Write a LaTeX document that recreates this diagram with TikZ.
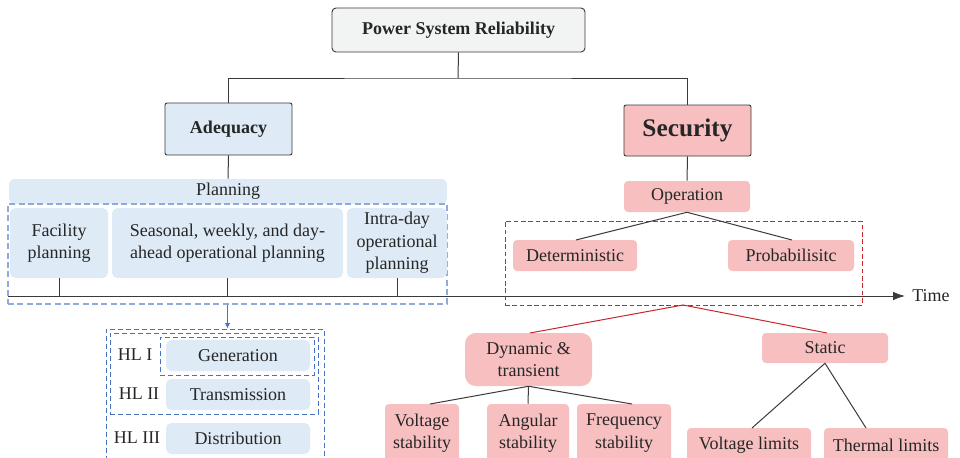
\documentclass[tikz,border=0pt]{standalone}
\usepackage{fontspec}
\setmainfont{Liberation Serif}
\usetikzlibrary{arrows.meta}
\definecolor{ink}{HTML}{262626}
\definecolor{edge}{HTML}{3A3A3A}
\definecolor{bluefill}{HTML}{DEEAF5}
\definecolor{pinkfill}{HTML}{F8BFC1}
\definecolor{greyfill}{HTML}{F2F3F3}
\definecolor{lightdash}{HTML}{8FAADC}
\definecolor{darkdash}{HTML}{4472C4}
\definecolor{reddash}{HTML}{C8262B}
% \boxat[style]{name}{x1}{y1}{x2}{y2}{text}: a node filling the given corners
\newcommand\boxat[7][]{%
  \node[inner sep=0pt, align=center, text=ink,
        minimum width={(#5-#3)*0.75pt}, minimum height={(#6-#4)*0.75pt}, #1]
    (#2) at ({(#3+#5)/2},{(#4+#6)/2}) {#7};}
\tikzset{
  txt/.style={font=\fontsize{13.5}{16.8}\selectfont},
  blue/.style={txt, fill=bluefill, rounded corners=4pt},
  pink/.style={txt, fill=pinkfill, rounded corners=3pt},
  headbox/.style={draw=edge, line width=0.7pt, rounded corners=1.5pt},
  link/.style={draw=edge, line width=0.75pt},
  redlink/.style={draw=reddash, line width=0.75pt},
  dashbox/.style={draw, dash pattern=on 4.5pt off 2.5pt, line width=0.8pt},
}
\begin{document}
\begin{tikzpicture}[x=0.75pt, y=-0.75pt]
\useasboundingbox (0,0) rectangle (960,457);

% ---- top of the tree
\boxat[headbox, fill=greyfill, rounded corners=3pt, font=\bfseries\fontsize{13.5}{16}\selectfont]{title}{332}{8}{585}{52}{Power System Reliability}
\boxat[headbox, fill=bluefill, font=\bfseries\fontsize{13.5}{16}\selectfont]{adeq}{165}{103}{292}{155}{Adequacy}
\boxat[headbox, fill=pinkfill, font=\bfseries\fontsize{19}{22}\selectfont]{sec}{624}{105}{751}{156}{Security}
\coordinate (split) at (458,78);
\draw[link] (title.south) -- (split);
\draw[link] (adeq.north) |- (split) -| (sec.north);

% ---- planning side
\boxat[blue]{plan}{9}{179}{447}{204}{Planning}
\draw[link] (adeq.south) -- (plan.north);
\boxat[dashbox, draw=lightdash]{pdash}{8}{204}{447}{304}{}
\boxat[blue]{fac}{10}{208}{108}{278}{Facility\\planning}
\boxat[blue]{seas}{112}{208}{343}{278}{Seasonal, weekly, and day-\\ahead operational planning}
\boxat[blue]{intra}{347}{208}{447}{278}{Intra-day\\operational\\planning}

% ---- time axis
\coordinate (t0) at (8,296);
\coordinate (t1) at (905,296);
\draw[link, -{Latex[length=9pt,width=6.5pt]}] (t0) -- (t1);
\node[txt, text=ink, anchor=west, inner sep=0pt] (time) at (912,296) {Time};
\draw[link] (fac.south) -- (fac.south |- t0);
\draw[link] (seas.south) -- (seas.south |- t0);
\draw[link] (intra.south) -- (intra.south |- t0);

% ---- hierarchical levels
\boxat[dashbox, draw=darkdash, dash pattern=on 4pt off 2pt, line width=0.75pt]{hlout}{106}{329}{324}{462}{}
\boxat[dashbox, draw=darkdash, dash pattern=on 4pt off 2pt, line width=0.75pt]{hlmid}{110}{333}{318}{414}{}
\boxat[dashbox, draw=darkdash, dash pattern=on 4pt off 2pt, line width=0.75pt]{hlin}{160}{337}{314}{375}{}
\draw[draw=darkdash, line width=0.75pt, -{Latex[length=4pt,width=4pt]}] (pdash.south) -- (pdash.south |- hlout.north);
\boxat[blue]{gen}{166}{340}{310}{371}{Generation}
\boxat[blue]{trans}{166}{379}{310}{410}{Transmission}
\boxat[blue]{dist}{166}{423}{310}{454}{Distribution}
\node[txt, text=ink, inner sep=0pt] (hl1) at (135,355) {HL I};
\node[txt, text=ink, inner sep=0pt] (hl2) at (139,394) {HL II};
\node[txt, text=ink, inner sep=0pt] (hl3) at (137,438) {HL III};

% ---- security side
\boxat[pink]{oper}{624}{181}{750}{212}{Operation}
\draw[link] (sec.south) -- (oper.north);
\boxat[dashbox, draw=reddash, dash pattern=on 3.5pt off 2pt, line width=0.6pt]{rdash}{505}{221}{862}{305}{}
\boxat[pink]{det}{513}{240}{637}{271}{Deterministic}
\boxat[pink]{prob}{728}{240}{854}{271}{Probabilisitc}
\coordinate (dettop) at (576,240);
\coordinate (probtop) at (792,240);
\draw[link] (dettop) -- (oper.south) -- (probtop);

\boxat[pink, rounded corners=8pt]{dyn}{465}{333}{592}{386}{Dynamic \&\\transient}
\boxat[pink]{stat}{762}{333}{888}{363}{Static}
\coordinate (rtip) at (683,305);
\coordinate (dyntop) at (530,333);
\coordinate (stattop) at (827,333);
\draw[redlink] (dyntop) -- (rtip) -- (stattop);

\boxat[pink]{vs}{385}{404}{459}{462}{Voltage\\stability}
\boxat[pink]{as}{487}{404}{569}{462}{Angular\\stability}
\boxat[pink]{fs}{577}{404}{671}{462}{Frequency\\stability}
\coordinate (vstop) at (430,404);
\coordinate (fstop) at (632,404);
\draw[link] (vstop) -- (dyn.south) -- (fstop);
\draw[link] (dyn.south) -- (as.north);

\boxat[pink]{vl}{687}{428}{811}{462}{Voltage limits}
\boxat[pink]{tl}{824}{428}{948}{462}{Thermal limits}
\coordinate (vltop) at (752,428);
\coordinate (tltop) at (866,428);
\draw[link] (vltop) -- (stat.south) -- (tltop);
\end{tikzpicture}
\end{document}
